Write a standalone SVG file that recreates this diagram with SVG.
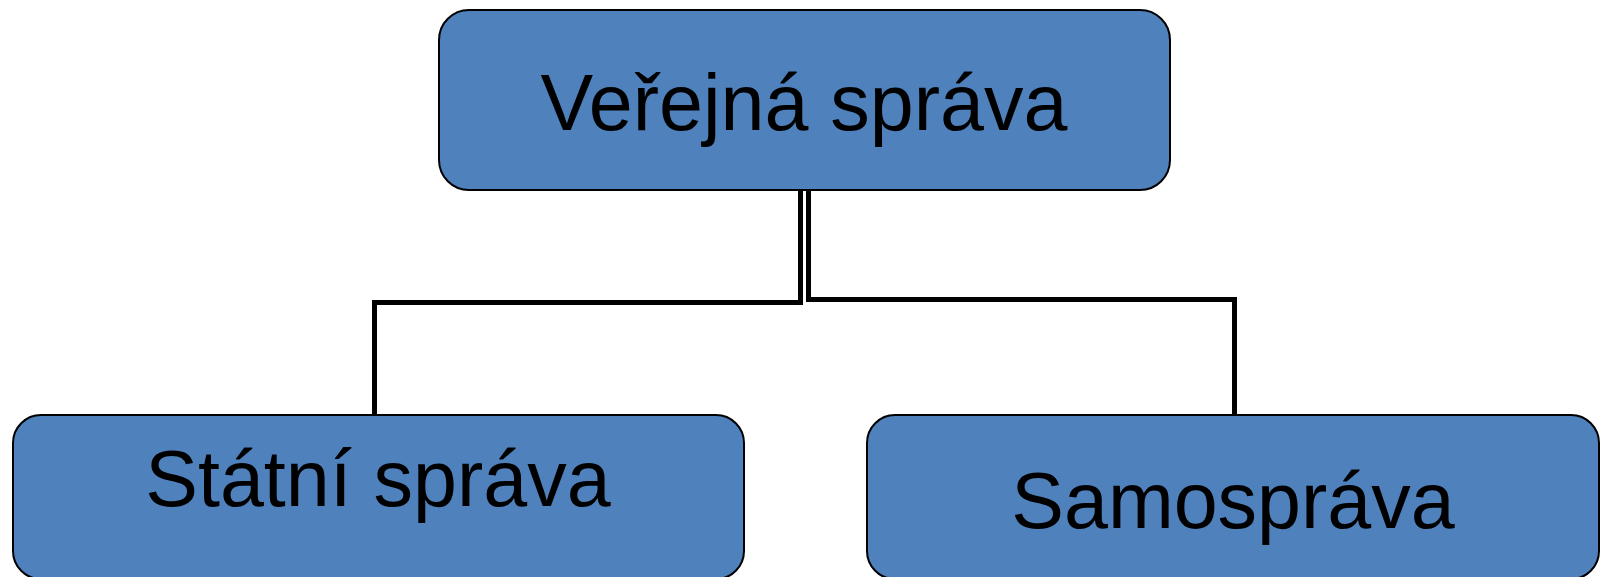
<svg xmlns="http://www.w3.org/2000/svg" width="1605" height="577" viewBox="0 0 1605 577">
<style>
.box{fill:#4F81BD;stroke:#000;stroke-width:2}
.lbl{font-family:"Liberation Sans",Arial,sans-serif;font-size:79px;fill:#000;text-anchor:middle}
.con{fill:none;stroke:#000;stroke-width:5;stroke-linejoin:miter}
</style>
<rect width="1605" height="577" fill="#fff"/>
<g id="connectors">
<path class="con" d="M800.5 190 V302.5 H374.5 V415"/>
<path class="con" d="M808.5 190 V299.5 H1234.5 V415"/>
</g>
<g id="verejna">
<rect class="box" x="439" y="10" width="731" height="180" rx="30"/>
<text class="lbl" x="804" y="130">Veřejná správa</text>
</g>
<g id="statni">
<rect class="box" x="13" y="415" width="731" height="164" rx="28"/>
<text class="lbl" x="378" y="506">Státní správa</text>
</g>
<g id="samosprava">
<rect class="box" x="867" y="415" width="732" height="164" rx="28"/>
<text class="lbl" x="1233" y="528">Samospráva</text>
</g>
</svg>
